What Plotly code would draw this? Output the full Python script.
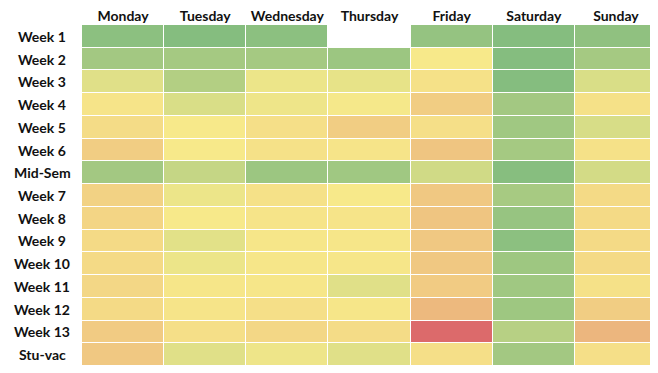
import plotly.graph_objects as go

days = ["Monday", "Tuesday", "Wednesday", "Thursday", "Friday", "Saturday", "Sunday"]
weeks = ["Week 1", "Week 2", "Week 3", "Week 4", "Week 5", "Week 6", "Mid-Sem",
         "Week 7", "Week 8", "Week 9", "Week 10", "Week 11", "Week 12", "Week 13", "Stu-vac"]

monday    = [0.97, 0.87, 0.60, 0.48, 0.45, 0.39, 0.87, 0.41, 0.42, 0.44, 0.44, 0.43, 0.44, 0.38, 0.37]
tuesday   = [1.00, 0.86, 0.80, 0.63, 0.50, 0.50, 0.72, 0.55, 0.50, 0.59, 0.55, 0.49, 0.48, 0.46, 0.60]
wednesday = [0.97, 0.86, 0.55, 0.54, 0.46, 0.47, 0.90, 0.47, 0.48, 0.49, 0.49, 0.49, 0.46, 0.43, 0.54]
thursday  = [None, 0.90, 0.57, 0.51, 0.39, 0.48, 0.88, 0.50, 0.48, 0.49, 0.49, 0.60, 0.49, 0.45, 0.60]
friday    = [0.93, 0.50, 0.47, 0.39, 0.46, 0.36, 0.67, 0.37, 0.36, 0.37, 0.37, 0.38, 0.31, 0.00, 0.46]
saturday  = [1.00, 1.00, 1.00, 0.87, 0.88, 0.86, 0.99, 0.85, 0.92, 0.97, 0.89, 0.88, 0.89, 0.78, 0.87]
sunday    = [0.95, 0.86, 0.63, 0.47, 0.64, 0.47, 0.66, 0.44, 0.44, 0.44, 0.44, 0.47, 0.39, 0.30, 0.46]

cols = [monday, tuesday, wednesday, thursday, friday, saturday, sunday]
z = [[cols[c][r] for c in range(len(days))] for r in range(len(weeks))]

colorscale = [[0.0, "#DC6A6B"], [0.5, "#F7E98A"], [1.0, "#85BD7F"]]

fig = go.Figure(go.Heatmap(
    z=z, x=days, y=weeks, colorscale=colorscale, zmin=0, zmax=1,
    showscale=False, xgap=1, ygap=1, hoverongaps=False,
))

FONT = "Lato"
W, H = 658, 373
# page body has an 8px offset; compensate so the plot lands at x 82..657, y 25..366
L, R, T, B = 74, 9, 17, 15
PW = W - L - R
for w in weeks:
    fig.add_annotation(x=(34 - L) / PW, xref="paper", xanchor="center", y=w, yref="y",
                       text=w, showarrow=False,
                       font=dict(family=FONT, size=14, color="#111", weight="bold"))

fig.update_layout(
    width=W, height=H,
    margin=dict(l=L, r=R, t=T, b=B, autoexpand=False),
    paper_bgcolor="white", plot_bgcolor="white",
    font=dict(family=FONT, size=14, color="#111"),
    xaxis=dict(side="top", showgrid=False, zeroline=False, ticks="", automargin=False,
               tickfont=dict(family=FONT, size=14, color="#111", weight="bold"),
               ticklabelstandoff=0),
    yaxis=dict(autorange="reversed", showgrid=False, zeroline=False, automargin=False,
               showticklabels=False, ticks=""),
)

fig.write_html("out.html")
